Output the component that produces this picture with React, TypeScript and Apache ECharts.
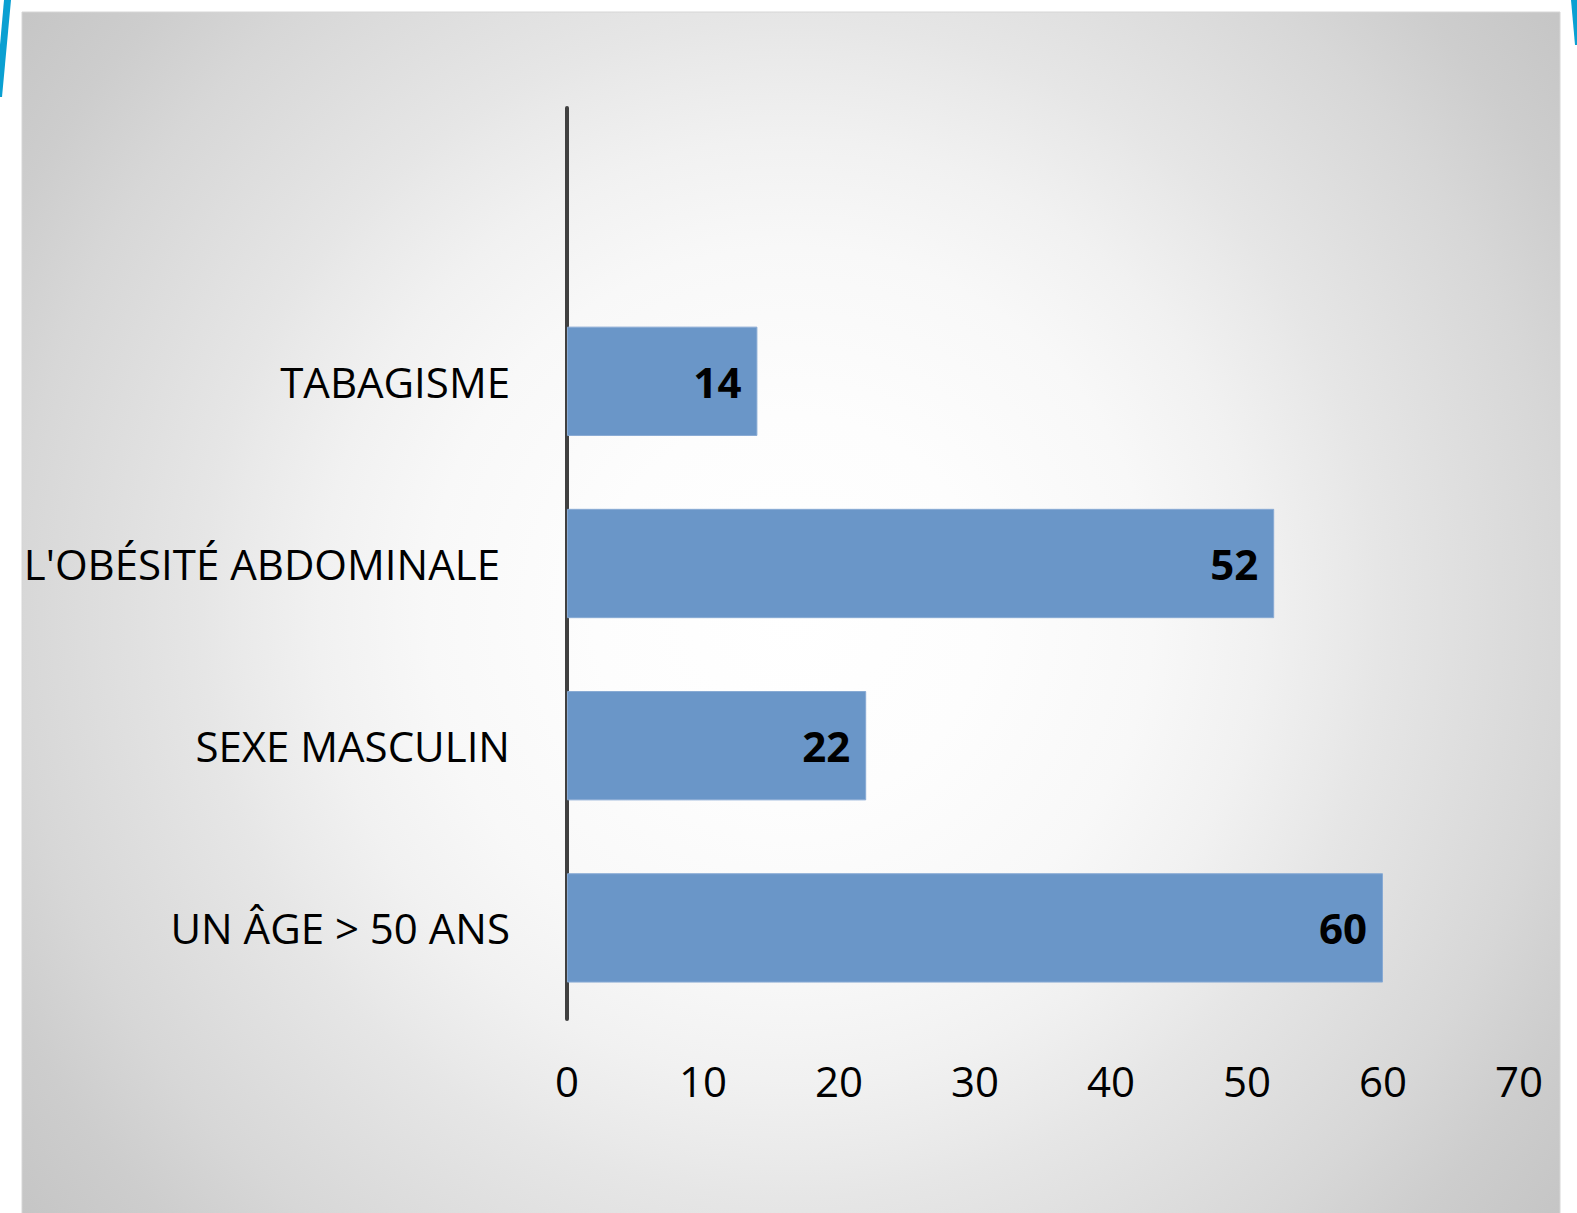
import React, { useEffect, useRef } from "react";
import * as echarts from "echarts";

const categories = ["UN ÂGE > 50 ANS", "SEXE MASCULIN", "L'OBÉSITÉ ABDOMINALE", "TABAGISME", ""];
const values: (number | null)[] = [60, 22, 52, 14, null];
const xTicks = [0, 70, 10]; // min, max, interval

const FONT = "'Open Sans', 'Noto Sans', sans-serif";
const FS = 42;

export default function App() {
  const ref = useRef<HTMLDivElement>(null);
  useEffect(() => {
    document.body.style.margin = "0";
    const chart = echarts.init(ref.current!, null, { renderer: "svg" });
    chart.setOption({
      animation: false,
      backgroundColor: "#ffffff",
      graphic: [
        {
          type: "rect",
          z: -10,
          silent: true,
          shape: { x: 22, y: 12, width: 1538, height: 1210 },
          style: {
            fill: new echarts.graphic.RadialGradient(790, 610, 980, [
              { offset: 0, color: "#ffffff" },
              { offset: 0.2, color: "#fdfdfd" },
              { offset: 0.37, color: "#f8f8f8" },
              { offset: 0.48, color: "#f1f1f1" },
              { offset: 0.57, color: "#e9e9e9" },
              { offset: 0.6, color: "#e6e6e6" },
              { offset: 0.79, color: "#d7d7d7" },
              { offset: 0.89, color: "#cdcdcd" },
              { offset: 1, color: "#c5c5c5" },
            ], true),
            stroke: "#d6d6d6",
            lineWidth: 1,
          },
        },
        {
          type: "polygon",
          z: -5,
          silent: true,
          shape: { points: [[4, 0], [11, 0], [2, 97], [0, 97], [0, 45]] },
          style: { fill: "#0aa0d2" },
        },
        {
          type: "polygon",
          z: -5,
          silent: true,
          shape: { points: [[1571, 0], [1577, 0], [1577, 45], [1575, 45]] },
          style: { fill: "#0aa0d2" },
        },
      ],
      grid: { left: 567, right: 58, top: 108, bottom: 194, containLabel: false },
      xAxis: {
        type: "value",
        min: xTicks[0],
        max: xTicks[1],
        interval: xTicks[2],
        axisLine: { show: false },
        axisTick: { show: false },
        splitLine: { show: false },
        axisLabel: { fontFamily: FONT, fontSize: FS, color: "#000000", margin: 40 },
      },
      yAxis: {
        type: "category",
        data: categories.map((c) =>
          c === "L'OBÉSITÉ ABDOMINALE" ? { value: c, textStyle: { padding: [0, 10, 0, 0] } } : c
        ),
        axisLine: { show: true, lineStyle: { color: "#404040", width: 4 } },
        axisTick: { show: false },
        splitLine: { show: false },
        axisLabel: { fontFamily: FONT, fontSize: FS, color: "#000000", margin: 57 },
      },
      series: [
        {
          type: "bar",
          data: values,
          barCategoryGap: "40%",
          itemStyle: { color: "#6a96c8", borderColor: "#88aad4", borderWidth: 1 },
          label: {
            show: true,
            position: "insideRight",
            distance: 16,
            fontFamily: FONT,
            fontWeight: "bold",
            fontSize: FS,
            color: "#000000",
          },
        },
      ],
    });
    return () => chart.dispose();
  }, []);
  return <div ref={ref} style={{ width: 1577, height: 1213 }} />;
}
